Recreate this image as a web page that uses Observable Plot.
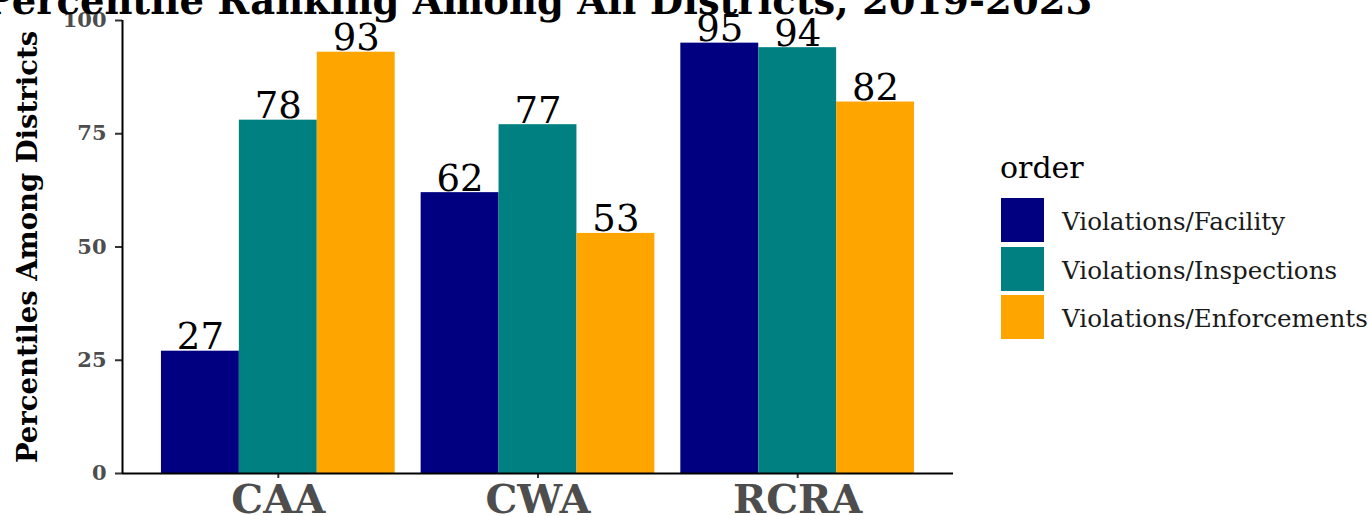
<!DOCTYPE html>
<html>
<head>
<meta charset="utf-8">
<script src="https://cdn.jsdelivr.net/npm/d3@7"></script>
<script src="https://cdn.jsdelivr.net/npm/@observablehq/plot@0.6"></script>
<style>
  html, body { margin: 0; padding: 0; background: white; overflow: hidden; }
  #wrap { position: relative; width: 1368px; height: 516px; font-family: "DejaVu Serif", serif; }
  #legend { position: absolute; left: 0; top: 0; }
  .lg-title { position: absolute; left: 1000px; top: 153px; font-size: 30px; line-height: 30px; color: #000; white-space: nowrap; }
  .lg-key { position: absolute; left: 1001px; width: 43px; height: 44px; }
  .lg-label { position: absolute; left: 1062px; font-size: 24.6px; line-height: 44px; height: 44px; color: #1a1a1a; white-space: nowrap; }
</style>
</head>
<body>
<div id="wrap"><div id="chart"></div><div id="legend"></div></div>
<script>
const titleText = "Percentile Ranking Among All Districts, 2019-2023";
const yTitle = "Percentiles Among Districts";
const legendTitle = "order";
const categories = ["CAA", "CWA", "RCRA"];
const seriesNames = ["Violations/Facility", "Violations/Inspections", "Violations/Enforcements"];
const seriesColors = ["#000080", "#008080", "#FFA500"];
const facilityPct = [27, 62, 95];
const inspectionsPct = [78, 77, 94];
const enforcementsPct = [93, 53, 82];
const yTicks = [0, 25, 50, 75, 100];

const seriesValues = [facilityPct, inspectionsPct, enforcementsPct];
const dodgeWidth = 0.9;
const barW = dodgeWidth / seriesNames.length;
const xDomain = [0.4, categories.length + 0.6];

const rows = [];
categories.forEach((cat, i) => {
  seriesNames.forEach((s, j) => {
    rows.push({cat, series: s, value: seriesValues[j][i], pos: i + 1, j});
  });
});

const plot = Plot.plot({
  width: 1368,
  height: 516,
  marginTop: 20,
  marginBottom: 43,
  marginLeft: 122,
  marginRight: 415,
  style: {fontFamily: "DejaVu Serif", background: "white", overflow: "visible"},
  x: {type: "linear", domain: xDomain, axis: null},
  y: {domain: [0, 100], axis: null},
  color: {domain: seriesNames, range: seriesColors},
  marks: [
    Plot.rectY(rows, {
      x1: d => d.pos - dodgeWidth / 2 + d.j * barW,
      x2: d => d.pos - dodgeWidth / 2 + (d.j + 1) * barW,
      y1: 0,
      y2: "value",
      fill: "series"
    }),
    Plot.text(rows, {
      x: d => d.pos - dodgeWidth / 2 + (d.j + 0.5) * barW,
      y: "value",
      text: d => String(d.value),
      lineAnchor: "bottom",
      dy: -2,
      fontSize: 37,
      fill: "black"
    }),
    Plot.axisY({
      ticks: yTicks,
      tickSize: 7,
      tickPadding: 9,
      fontSize: 21,
      fontWeight: "bold",
      fill: "#4D4D4D",
      stroke: "#333333",
      strokeWidth: 2,
      label: null
    }),
    Plot.axisX({
      ticks: categories.map((c, i) => i + 1),
      tickFormat: d => categories[d - 1],
      tickSize: 5,
      tickPadding: 6,
      fontSize: 40,
      fontWeight: "bold",
      fill: "#4D4D4D",
      stroke: "#333333",
      strokeWidth: 2,
      label: null
    }),
    Plot.ruleY([0], {stroke: "black", strokeWidth: 2}),
    Plot.ruleX([xDomain[0]], {stroke: "black", strokeWidth: 2}),
    Plot.text([yTitle], {
      frameAnchor: "left",
      rotate: -90,
      dx: -94,
      textAnchor: "middle",
      lineAnchor: "middle",
      fontSize: 27.5,
      fontWeight: "bold",
      fill: "black"
    }),
    Plot.text([titleText], {
      frameAnchor: "top",
      lineAnchor: "bottom",
      dy: -7,
      fontSize: 38.5,
      fontWeight: "bold",
      fill: "black"
    })
  ]
});
document.getElementById("chart").appendChild(plot);

const legend = document.getElementById("legend");
const t = document.createElement("div");
t.className = "lg-title";
t.textContent = legendTitle;
legend.appendChild(t);
seriesNames.forEach((s, i) => {
  const top = 198 + i * 48.5;
  const k = document.createElement("div");
  k.className = "lg-key";
  k.style.top = top + "px";
  k.style.background = seriesColors[i];
  legend.appendChild(k);
  const l = document.createElement("div");
  l.className = "lg-label";
  l.style.top = (top + 2) + "px";
  l.textContent = s;
  legend.appendChild(l);
});
</script>
</body>
</html>
